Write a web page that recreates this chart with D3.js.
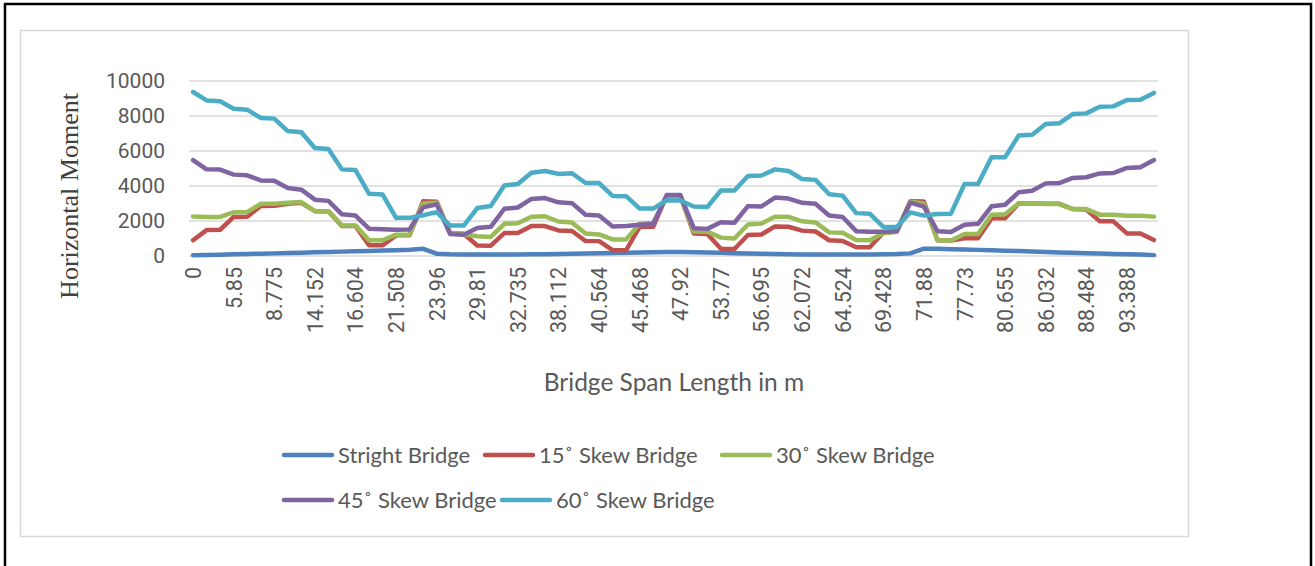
<!DOCTYPE html>
<html>
<head>
<meta charset="utf-8">
<script src="https://cdn.jsdelivr.net/npm/d3@7/dist/d3.min.js"></script>
<style>
  body { margin: 0; background: #fff; }
</style>
</head>
<body>
<div id="chart"></div>
<script>
// x tick labels shown on the category axis (every 3rd category)
var tickLabels = ["0", "5.85", "8.775", "14.152", "16.604", "21.508", "23.96", "29.81",
  "32.735", "38.112", "40.564", "45.468", "47.92", "53.77", "56.695", "62.072",
  "64.524", "69.428", "71.88", "77.73", "80.655", "86.032", "88.484", "93.388"];
var labelStep = 3;
var nPoints = 72;

var seriesNames = ["Stright Bridge", "15˚ Skew Bridge", "30˚ Skew Bridge", "45˚ Skew Bridge", "60˚ Skew Bridge"];

var straight = [40, 60, 75, 95, 110, 135, 150, 170, 190, 215, 235, 250, 270, 290, 310, 330, 360, 410,
  130, 100, 90, 80, 80, 80, 85, 95, 105, 115, 130, 145, 160, 175, 190, 205, 220, 230,
  230, 220, 200, 180, 160, 140, 125, 110, 100, 90, 80, 80, 80, 85, 90, 100, 110, 150,
  420, 410, 390, 370, 350, 330, 300, 280, 260, 230, 200, 180, 160, 140, 120, 100, 80, 50];

var skew15 = [900, 1480, 1500, 2230, 2240, 2860, 2870, 2990, 3040, 2560, 2550, 1720, 1720, 620, 610, 1180, 1190, 3130,
  3100, 1300, 1270, 600, 590, 1310, 1320, 1720, 1710, 1460, 1430, 860, 850, 330, 330, 1660, 1670, 3450,
  3450, 1280, 1260, 420, 400, 1200, 1230, 1690, 1670, 1450, 1400, 900, 860, 500, 500, 1330, 1400, 3130,
  3120, 900, 890, 1010, 1020, 2150, 2160, 3000, 3000, 2990, 2980, 2680, 2650, 1980, 1980, 1290, 1290, 910];

var skew30 = [2260, 2230, 2230, 2500, 2510, 2980, 2990, 3040, 3080, 2570, 2550, 1750, 1750, 900, 900, 1220, 1220, 3000,
  3050, 1280, 1240, 1130, 1090, 1840, 1870, 2240, 2270, 1970, 1920, 1280, 1230, 950, 950, 1850, 1890, 3400,
  3400, 1400, 1390, 1050, 1000, 1800, 1850, 2250, 2240, 1980, 1920, 1350, 1330, 920, 900, 1300, 1380, 3100,
  3000, 900, 890, 1260, 1260, 2360, 2380, 3000, 3010, 2970, 2970, 2690, 2680, 2360, 2360, 2300, 2300, 2250];

var skew45 = [5480, 4950, 4940, 4650, 4610, 4320, 4300, 3880, 3790, 3220, 3150, 2380, 2310, 1560, 1530, 1500, 1520, 2780,
  2950, 1250, 1220, 1600, 1670, 2700, 2770, 3260, 3310, 3070, 3020, 2360, 2310, 1690, 1720, 1780, 1830, 3480,
  3480, 1590, 1550, 1930, 1900, 2850, 2830, 3340, 3280, 3040, 2980, 2310, 2230, 1420, 1380, 1390, 1420, 3050,
  2820, 1420, 1370, 1790, 1840, 2840, 2930, 3640, 3730, 4150, 4170, 4460, 4500, 4720, 4740, 5030, 5070, 5480];

var skew60 = [9370, 8890, 8840, 8420, 8360, 7890, 7850, 7140, 7070, 6170, 6110, 4950, 4910, 3560, 3520, 2180, 2180, 2330,
  2510, 1740, 1740, 2740, 2860, 4030, 4120, 4760, 4860, 4690, 4730, 4170, 4170, 3430, 3420, 2710, 2710, 3190,
  3170, 2830, 2800, 3740, 3740, 4570, 4600, 4950, 4860, 4400, 4350, 3530, 3450, 2450, 2420, 1660, 1660, 2490,
  2310, 2400, 2420, 4110, 4115, 5640, 5640, 6880, 6930, 7540, 7580, 8110, 8150, 8530, 8550, 8910, 8930, 9320];

var yTicks = [0, 2000, 4000, 6000, 8000, 10000];

var allSeries = [straight, skew15, skew30, skew45, skew60];
var colors = ["#4F81BD", "#C0504D", "#9BBB59", "#8064A2", "#4BACC6"];

var W = 1315, H = 566;
var plot = { left: 189, right: 1158, top: 81, bottom: 256 };

var svg = d3.select("#chart")
  .append("svg")
  .attr("width", W)
  .attr("height", H);

// outer black frame and grey chart border
svg.append("rect")
  .attr("x", 5).attr("y", 4).attr("width", 1306).attr("height", 600)
  .attr("fill", "none").attr("stroke", "#000").attr("stroke-width", 2.5);
svg.append("rect")
  .attr("x", 20.5).attr("y", 30.5).attr("width", 1168).attr("height", 506)
  .attr("fill", "none").attr("stroke", "#d9d9d9").attr("stroke-width", 1.5);

var idx = d3.range(nPoints);
var x = d3.scalePoint()
  .domain(idx)
  .range([plot.left, plot.right])
  .padding(0.3);

var y = d3.scaleLinear()
  .domain([0, 10000])
  .range([plot.bottom, plot.top]);

// gridlines
svg.append("g")
  .selectAll("line")
  .data(yTicks)
  .enter()
  .append("line")
  .attr("x1", plot.left)
  .attr("x2", plot.right)
  .attr("y1", function (d) { return y(d); })
  .attr("y2", function (d) { return y(d); })
  .attr("stroke", "#d9d9d9")
  .attr("stroke-width", 1.5);

// y axis labels
var yAxis = d3.axisLeft(y).tickValues(yTicks).tickFormat(d3.format("d")).tickSize(0).tickPadding(0);
var gy = svg.append("g")
  .attr("transform", "translate(165,0)")
  .call(yAxis);
gy.select(".domain").remove();
gy.selectAll("text")
  .attr("fill", "#595959")
  .style("font-family", "Roboto, sans-serif")
  .style("font-size", "21px");

// x axis labels, rotated
var xAxis = d3.axisBottom(x)
  .tickValues(idx.filter(function (i) { return i % labelStep === 0; }))
  .tickFormat(function (i) { return tickLabels[i / labelStep]; })
  .tickSize(0);
var gx = svg.append("g")
  .attr("transform", "translate(0," + plot.bottom + ")")
  .call(xAxis);
gx.select(".domain").remove();
gx.selectAll("text")
  .attr("fill", "#595959")
  .style("font-family", "Roboto, sans-serif")
  .style("font-size", "21.5px")
  .attr("text-anchor", "end")
  .attr("dy", "0.35em")
  .attr("transform", "translate(0,11) rotate(-90)")
  .attr("y", 0)
  .attr("x", 0);

// lines
var line = d3.line()
  .x(function (d, i) { return x(i); })
  .y(function (d) { return y(d); });

svg.append("g")
  .selectAll("path")
  .data(allSeries)
  .enter()
  .append("path")
  .attr("d", line)
  .attr("fill", "none")
  .attr("stroke", function (d, i) { return colors[i]; })
  .attr("stroke-width", 4.5)
  .attr("stroke-linejoin", "round")
  .attr("stroke-linecap", "round");

// axis titles
svg.append("text")
  .attr("transform", "translate(78,196) rotate(-90)")
  .attr("text-anchor", "middle")
  .attr("fill", "#404040")
  .style("font-family", "'Liberation Serif', 'Times New Roman', serif")
  .style("font-size", "26px")
  .text("Horizontal Moment");

svg.append("text")
  .attr("x", 674)
  .attr("y", 391)
  .attr("text-anchor", "middle")
  .attr("fill", "#595959")
  .style("font-family", "Lato, sans-serif")
  .style("font-size", "24.5px")
  .text("Bridge Span Length in m");

// legend
var legendPos = [[282, 455], [483, 455], [720, 455], [282, 500], [500, 500]];
var legend = svg.append("g")
  .selectAll("g")
  .data(seriesNames)
  .enter()
  .append("g")
  .attr("transform", function (d, i) { return "translate(" + legendPos[i][0] + "," + legendPos[i][1] + ")"; });

legend.append("line")
  .attr("x1", 2).attr("x2", 50)
  .attr("stroke", function (d, i) { return colors[i]; })
  .attr("stroke-width", 4.5)
  .attr("stroke-linecap", "round");

legend.append("text")
  .attr("x", 56)
  .attr("dy", "0.35em")
  .attr("fill", "#595959")
  .style("font-family", "Lato, sans-serif")
  .style("font-size", "22px")
  .text(function (d) { return d; });
</script>
</body>
</html>
